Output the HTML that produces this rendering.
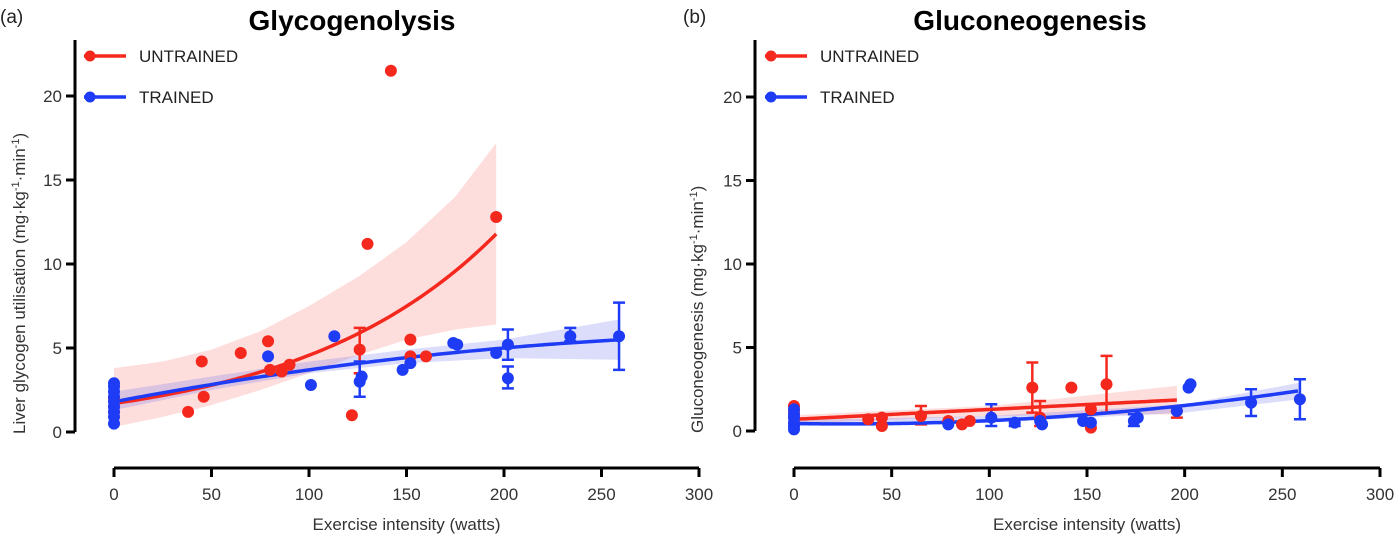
<!DOCTYPE html>
<html><head><meta charset="utf-8"><style>
body{margin:0;background:#fff;}
svg{display:block;font-family:"Liberation Sans",Arial,sans-serif;}
</style></head><body>
<svg id="c" width="1400" height="544" viewBox="0 0 1400 544"></svg>
<script>
const xTicks=[0,50,100,150,200,250,300];
const yTicks=[0,5,10,15,20];
// Panel A data
const aUx=[0,0,0,38,45,46,65,79,80,86,90,122,126,130,142,152,152,160,196];
const aUy=[1.5,2.0,1.2,1.2,4.2,2.1,4.7,5.4,3.7,3.6,4.0,1.0,4.9,11.2,21.5,5.5,4.5,4.5,12.8];
const aTx=[0,0,0,0,0,0,0,0,0,79,101,113,126,127,148,152,174,176,196,202,202,234,259];
const aTy=[0.5,0.9,1.2,1.5,1.8,2.1,2.4,2.7,2.9,4.5,2.8,5.7,3.0,3.3,3.7,4.1,5.3,5.2,4.7,5.2,3.2,5.7,5.7];
const aErrX=[126,126,202,202,234,259];
const aErrLo=[3.5,2.1,4.3,2.6,5.4,3.7];
const aErrHi=[6.2,4.2,6.1,3.9,6.2,7.7];
const aErrS=['u','t','t','t','t','t'];
const aBandUx=[0,25,50,75,100,126,150,175,196];
const aBandUhi=[3.8,4.2,4.9,6.0,7.5,9.3,11.3,14.0,17.2];
const aBandUlo=[0.3,0.9,1.6,2.5,3.5,4.6,5.5,6.1,6.4];
const aBandTx=[0,50,100,150,200,259];
const aBandThi=[2.4,3.3,4.2,4.9,5.5,6.7];
const aBandTlo=[1.3,2.5,3.5,4.1,4.4,4.3];
// Panel B data
const bUx=[0,0,0,38,45,45,65,79,86,90,122,126,142,152,152,160,196];
const bUy=[1.5,1.2,0.8,0.7,0.8,0.3,0.9,0.6,0.4,0.6,2.6,0.8,2.6,1.3,0.2,2.8,1.2];
const bTx=[0,0,0,0,0,0,79,101,113,126,127,148,152,174,176,196,202,203,234,259];
const bTy=[0.1,0.3,0.5,0.8,1.0,1.3,0.4,0.8,0.5,0.6,0.4,0.6,0.5,0.6,0.8,1.2,2.6,2.8,1.7,1.9];
const bErrX=[65,122,126,160,196,101,113,174,234,259];
const bErrLo=[0.4,1.1,0.3,1.1,0.8,0.3,0.3,0.3,0.9,0.7];
const bErrHi=[1.5,4.1,1.8,4.5,1.2,1.6,0.7,1.0,2.5,3.1];
const bErrS=['u','u','u','u','u','t','t','t','t','t'];
const bBandUx=[0,100,196];
const bBandUhi=[0.95,1.5,2.7];
const bBandUlo=[0.45,0.9,1.0];
const bBandTx=[0,100,200,259];
const bBandThi=[0.65,0.9,1.6,2.9];
const bBandTlo=[0.3,0.5,1.1,1.9];

const RED='#f5281e',BLUE='#1e3cf5';
const svg=document.getElementById('c');
const NS='http://www.w3.org/2000/svg';
function mk(tag,attrs,parent,text){const e=document.createElementNS(NS,tag);for(const k in attrs)e.setAttribute(k,attrs[k]);if(text!==undefined)e.textContent=text;(parent||svg).appendChild(e);return e;}

function panel(o){
  const g=mk('g',{});
  
  
  const X=v=>o.x0+v*o.sx, Y=v=>o.y0-v*o.sy;
  function band(xs,hi,lo,col,name){
    let d='M'+xs.map((x,i)=>X(x)+','+Y(hi[i])).join(' L');
    for(let i=xs.length-1;i>=0;i--)d+=' L'+X(xs[i])+','+Y(lo[i]);
    const p=mk('path',{d:d+'Z',fill:col,'stroke-linejoin':'round'},g);
    
    
  }
  band(o.bUx,o.bUhi,o.bUlo,'rgba(250,120,120,0.25)','untrained-confidence-band');
  band(o.bTx,o.bThi,o.bTlo,'rgba(110,120,240,0.25)','trained-confidence-band');
  function fit(f,xmax,col,name){
    let pts=[];for(let x=0;x<=xmax;x+=2)pts.push(X(x)+','+Y(f(x)));
    const p=mk('polyline',{points:pts.join(' '),fill:'none',stroke:col,'stroke-width':3.5},g);
    
    
  }
  o.ex.forEach((x,i)=>{
    const col=o.es[i]=='u'?RED:BLUE;
    const e=mk('path',{d:`M${X(x)},${Y(o.elo[i])}V${Y(o.ehi[i])}M${X(x)-6},${Y(o.elo[i])}h12M${X(x)-6},${Y(o.ehi[i])}h12`,stroke:col,'stroke-width':2.5,fill:'none'},g);
    
    
  });
  fit(o.fu,196,RED,'untrained-fit-line');
  fit(o.ft,259,BLUE,'trained-fit-line');
  o.ux.forEach((x,i)=>{const c=mk('circle',{cx:X(x),cy:Y(o.uy[i]),r:6,fill:RED},g);
    
    });
  o.tx.forEach((x,i)=>{const c=mk('circle',{cx:X(x),cy:Y(o.ty[i]),r:6,fill:BLUE},g);
    
    });
  const ya=mk('path',{d:`M${o.ax},40V${Y(0)}`,stroke:'#000','stroke-width':3,fill:'none'},g);
  
  
  yTicks.forEach(v=>{
    mk('line',{x1:o.ax-9,x2:o.ax,y1:Y(v),y2:Y(v),stroke:'#000','stroke-width':3},g);
    const t=mk('text',{x:o.ax-13,y:Y(v)+6,'text-anchor':'end','font-size':17,fill:'#333'},g,v);
    
    
  });
  const xa=mk('path',{d:`M${X(0)},468H${X(300)}`,stroke:'#000','stroke-width':3,fill:'none'},g);
  
  
  xTicks.forEach(v=>{
    mk('line',{x1:X(v),x2:X(v),y1:468,y2:477,stroke:'#000','stroke-width':3},g);
    const t=mk('text',{x:X(v),y:500,'text-anchor':'middle','font-size':17,fill:'#333'},g,v);
    
    
  });
  const xt=mk('text',{x:X(150),y:530,'text-anchor':'middle','font-size':17,fill:'#333'},g,'Exercise intensity (watts)');
  
  
  const yt=mk('text',{transform:`translate(${o.ytx},${Y(0)+2}) rotate(-90)`,'font-size':17,fill:'#333'},g);
  
  
  yt.innerHTML=o.ylab+' (mg·kg<tspan baseline-shift="super" font-size="11">-1</tspan>·min<tspan baseline-shift="super" font-size="11">-1</tspan>)';
  const ti=mk('text',{x:o.tcx,y:30,'text-anchor':'middle','font-size':28,'font-weight':'bold',fill:'#000'},g,o.title);
  
  
  const lb=mk('text',{x:o.lx,y:23,'font-size':19,fill:'#222'},g,o.letter);
  
  
  [['UNTRAINED',RED,56],['TRAINED',BLUE,97]].forEach(([n,c,y])=>{
    const lg=mk('g',{},g);
    
    
    mk('line',{x1:o.legx,x2:o.legx+42,y1:y,y2:y,stroke:c,'stroke-width':3.5},lg);
    mk('circle',{cx:o.legx+6,cy:y,r:5.5,fill:c},lg);
    mk('text',{x:o.legx+55,y:y+6,'font-size':17,fill:'#222'},lg,n);
  });
}
panel({id:'glycogenolysis',x0:114,sx:97.5/50,y0:432,sy:16.8,ax:75,ytx:25,tcx:352,lx:0,letter:'(a)',title:'Glycogenolysis',legx:84,
  ylab:'Liver glycogen utilisation',
  ux:aUx,uy:aUy,tx:aTx,ty:aTy,ex:aErrX,elo:aErrLo,ehi:aErrHi,es:aErrS,
  bUx:aBandUx,bUhi:aBandUhi,bUlo:aBandUlo,bTx:aBandTx,bThi:aBandThi,bTlo:aBandTlo,
  fu:x=>1.7*Math.exp(0.00988*x), ft:x=>1.8+0.022*x-0.00003*x*x});
panel({id:'gluconeogenesis',x0:794,sx:586/300,y0:431,sy:16.7,ax:755,ytx:703,tcx:1030,lx:683,letter:'(b)',title:'Gluconeogenesis',legx:765,
  ylab:'Gluconeogenesis',
  ux:bUx,uy:bUy,tx:bTx,ty:bTy,ex:bErrX,elo:bErrLo,ehi:bErrHi,es:bErrS,
  bUx:bBandUx,bUhi:bBandUhi,bUlo:bBandUlo,bTx:bBandTx,bThi:bBandThi,bTlo:bBandTlo,
  fu:x=>0.7+0.0059*x, ft:x=>0.45-0.002*x+0.000037*x*x});
</script>
</body></html>
